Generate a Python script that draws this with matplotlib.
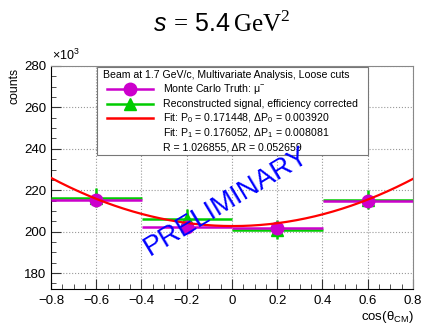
import numpy as np
import matplotlib
matplotlib.use('Agg')
from matplotlib import pyplot as plt
from matplotlib.patches import Rectangle
from matplotlib.ticker import MultipleLocator

plt.rcParams['font.family'] = ['Liberation Sans', 'DejaVu Sans']
plt.rcParams['mathtext.fontset'] = 'custom'
plt.rcParams['mathtext.rm'] = 'Liberation Serif'
plt.rcParams['mathtext.it'] = 'Liberation Sans:italic'
plt.rcParams['mathtext.sf'] = 'Liberation Sans'

# bins of cos(theta_CM), counts in units of 10^3
bin_centers = [-0.6, -0.2, 0.2, 0.6]
bin_halfwidth = [0.2, 0.2, 0.2, 0.2]
mc_truth = [215.3, 202.4, 201.7, 214.8]
mc_err = [0.8, 0.8, 0.8, 0.8]
reco = [216.3, 206.2, 201.0, 215.5]
reco_err = [4.6, 4.6, 4.6, 4.6]

# fit curve coefficients: a + b x + c x^2
fit_coef = [202.7, -0.3, 36.0]

xtick_labels = ['\u22120.8', '\u22120.6', '\u22120.4', '\u22120.2', '0',
                '0.2', '0.4', '0.6', '0.8']

MAGENTA = '#cc00cc'
GREEN = '#00cc00'

fig = plt.figure(figsize=(4.25, 3.27), dpi=100)
W, H = 425, 327
x0, x1, y0, y1 = 51, 413, 66, 289
ax = fig.add_axes([x0 / W, 1 - y1 / H, (x1 - x0) / W, (y1 - y0) / H])

def px(x, y):
    # pixel position -> axes fraction
    return (x - x0) / (x1 - x0), (y1 - y) / (y1 - y0)

ax.set_xlim(-0.8, 0.8)
ax.set_ylim(172.3, 280)
ax.set_xticks(np.arange(-0.8, 0.81, 0.2))
ax.set_xticklabels(xtick_labels)
ax.xaxis.set_minor_locator(MultipleLocator(0.05))
ax.yaxis.set_major_locator(MultipleLocator(20))
ax.yaxis.set_minor_locator(MultipleLocator(5))
ax.set_xlim(-0.8, 0.8)
ax.grid(True, which='major', ls=':', color='#999999', lw=0.8)
ax.set_axisbelow(True)
ax.tick_params(which='both', direction='in', top=False, right=False,
               labelsize=9.5, color='#333333')
ax.tick_params(axis='x', pad=4)
ax.tick_params(which='major', length=7)
ax.tick_params(which='minor', length=3.5)
for s in ['top', 'right']:
    ax.spines[s].set_color('#888888')
    ax.spines[s].set_linewidth(0.8)

ax.errorbar(bin_centers, reco, xerr=bin_halfwidth, yerr=reco_err, fmt='^',
            color=GREEN, ms=9, lw=1.8, capsize=0, zorder=3)
ax.errorbar(bin_centers, mc_truth, xerr=bin_halfwidth, yerr=mc_err, fmt='o',
            color=MAGENTA, ms=9, lw=1.8, capsize=0, zorder=4)
xs = np.linspace(-0.8, 0.8, 200)
ax.plot(xs, fit_coef[0] + fit_coef[1] * xs + fit_coef[2] * xs ** 2,
        color='red', lw=1.6, zorder=5)

# labels
ax.text(*px(52, 63), '\u00d710$^{\\mathsf{3}}$', transform=ax.transAxes,
        fontsize=9, ha='left', va='bottom')
fig.text(14 / W, 1 - 68 / H, 'counts', rotation=90, fontsize=8.8,
         ha='center', va='top')
fig.text(414 / W, 1 - 317 / H, 'cos(\u03b8$_{\\mathsf{CM}}$)', fontsize=9.5,
         ha='right', va='center')
fig.text(222 / W, 1 - 24 / H, r'$s\, = \,\mathsf{5.4}\,\mathrm{GeV}^2$',
         fontsize=18, ha='center', va='center')

# legend box
lx0, ly0 = px(97, 155)
lx1, ly1 = px(368, 67)
ax.add_patch(Rectangle((lx0, ly0), lx1 - lx0, ly1 - ly0, transform=ax.transAxes,
                       facecolor='white', edgecolor='#777777', lw=0.8, zorder=6))
lfs = 7.6
ax.text(*px(103, 75), 'Beam at 1.7 GeV/c, Multivariate Analysis, Loose cuts',
        transform=ax.transAxes, fontsize=lfs, va='center', zorder=7)
rows = [89, 104, 118, 133, 147]
entries = ['Monte Carlo Truth: \u03bc$^{\\mathsf{-}}$',
           'Reconstructed signal, efficiency corrected',
           'Fit: P$_{\\mathsf{0}}$ = 0.171448, \u0394P$_{\\mathsf{0}}$ = 0.003920',
           'Fit: P$_{\\mathsf{1}}$ = 0.176052, \u0394P$_{\\mathsf{1}}$ = 0.008081',
           'R = 1.026855, \u0394R = 0.052659']
for r, t in zip(rows, entries):
    ax.text(*px(163, r), t, transform=ax.transAxes, fontsize=lfs, va='center', zorder=7)
styles = [(MAGENTA, 'o', 9), (GREEN, '^', 8), ('red', None, 0)]
for r, (c, m, ms) in zip(rows, styles):
    xa, ya = px(107, r)
    xb, _ = px(153, r)
    ax.plot([xa, xb], [ya, ya], transform=ax.transAxes, color=c, lw=1.8,
            zorder=7, clip_on=False)
    if m:
        ax.plot([(xa + xb) / 2], [ya], transform=ax.transAxes, marker=m, ms=ms,
                color=c, zorder=8, clip_on=False)

ax.text(*px(226, 202), 'PRELIMINARY', transform=ax.transAxes, fontsize=20,
        color='blue', rotation=31, ha='center', va='center',
        rotation_mode='anchor', zorder=9)

fig.savefig('out.png', dpi=100)
